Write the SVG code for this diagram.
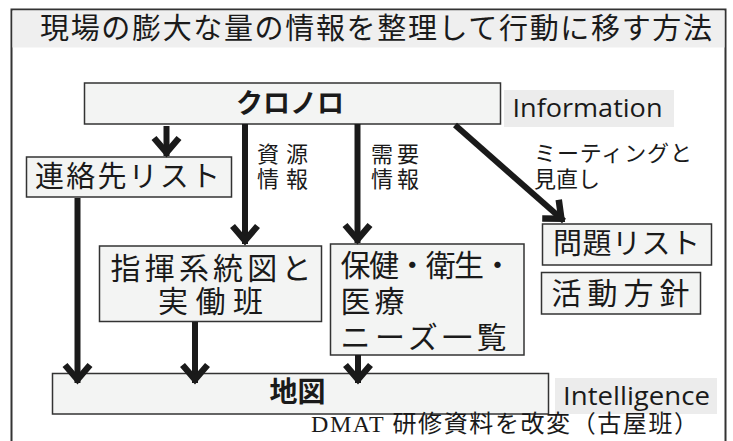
<svg xmlns="http://www.w3.org/2000/svg" width="733" height="441" viewBox="0 0 733 441">
<style>
.box{fill:#f3f4f3;stroke:#333;stroke-width:1.5}
.lbl{fill:#ececec}
.jp{font-family:"Noto Sans CJK JP","Noto Sans CJK SC",sans-serif;fill:#1a1a1a}
.en{font-family:"Open Sans","Noto Sans",sans-serif;fill:#1a1a1a;font-size:25px}
.ln{stroke:#1a1a1a;stroke-width:6;fill:none}
</style>
<defs>
<marker id="ah" markerUnits="userSpaceOnUse" markerWidth="50" markerHeight="50" viewBox="-25 -25 50 50" refX="0" refY="0" orient="auto" overflow="visible">
<path d="M -18 -12.5 L -3.5 0 L -18 12.5" fill="none" stroke="#1a1a1a" stroke-width="6.5"/>
</marker>
</defs>
<rect width="733" height="441" fill="#ffffff"/>
<g id="frame">
<rect x="11.5" y="9.5" width="714" height="445" fill="#ffffff" stroke="#333" stroke-width="2"/>
<rect x="12.5" y="10.5" width="712" height="37" fill="#efefef"/>
<text class="jp" x="40" y="39" font-size="29" textLength="672" lengthAdjust="spacing">現場の膨大な量の情報を整理して行動に移す方法</text>
</g>
<g id="chronolo">
<rect class="box" x="84.5" y="83" width="416" height="41"/>
<text class="jp" x="290" y="113" font-size="27" font-weight="bold" text-anchor="middle">クロノロ</text>
</g>
<g id="information">
<rect class="lbl" x="504" y="90" width="170" height="37"/>
<text class="en" x="512.5" y="117" textLength="150" lengthAdjust="spacingAndGlyphs">Information</text>
</g>
<g id="contacts">
<rect class="box" x="26.5" y="157" width="205" height="40"/>
<text class="jp" x="35" y="187" font-size="29" textLength="185" lengthAdjust="spacing">連絡先リスト</text>
</g>
<g id="command">
<rect class="box" x="99.5" y="246" width="222" height="75.5"/>
<text class="jp" x="110.5" y="279" font-size="30" textLength="201" lengthAdjust="spacing">指揮系統図と</text>
<text class="jp" x="158" y="312" font-size="30" textLength="105" lengthAdjust="spacing">実働班</text>
</g>
<g id="health">
<rect class="box" x="330.5" y="244" width="193.5" height="111" stroke="#555"/>
<text class="jp" x="340.5" y="276" font-size="30" textLength="172" lengthAdjust="spacing">保健・衛生・</text>
<text class="jp" x="340.5" y="312" font-size="30" textLength="64" lengthAdjust="spacing">医療</text>
<text class="jp" x="340.5" y="348" font-size="30" textLength="166" lengthAdjust="spacing">ニーズ一覧</text>
</g>
<g id="problems">
<rect class="box" x="542.5" y="224" width="169" height="41"/>
<text class="jp" x="553" y="254" font-size="29" textLength="147" lengthAdjust="spacing">問題リスト</text>
</g>
<g id="policy">
<rect class="box" x="541.5" y="272.5" width="159" height="41.5"/>
<text class="jp" x="551.5" y="304" font-size="30" textLength="138" lengthAdjust="spacing">活動方針</text>
</g>
<g id="map">
<rect class="box" x="52.5" y="373.5" width="496" height="40.5"/>
<text class="jp" x="297.5" y="402" font-size="28" font-weight="bold" text-anchor="middle">地図</text>
</g>
<g id="intelligence">
<rect class="lbl" x="555" y="378" width="162" height="36"/>
<text class="en" x="563" y="405" textLength="147" lengthAdjust="spacingAndGlyphs">Intelligence</text>
</g>
<g id="connectors">
<line class="ln" x1="166.5" y1="126" x2="166.5" y2="156" marker-end="url(#ah)"/>
<line class="ln" x1="245" y1="124" x2="245" y2="244" marker-end="url(#ah)"/>
<line class="ln" x1="357.5" y1="124" x2="357.5" y2="243" marker-end="url(#ah)"/>
<line class="ln" x1="455" y1="125" x2="564" y2="221" marker-end="url(#ah)"/>
<line class="ln" x1="77.5" y1="198" x2="77.5" y2="383" marker-end="url(#ah)"/>
<line class="ln" x1="195" y1="322" x2="195" y2="383" marker-end="url(#ah)"/>
<line class="ln" x1="358" y1="355" x2="358" y2="383" marker-end="url(#ah)"/>
<text class="jp" x="257" y="162" font-size="22" textLength="51" lengthAdjust="spacing">資源</text>
<text class="jp" x="257" y="187" font-size="22" textLength="51" lengthAdjust="spacing">情報</text>
<text class="jp" x="371" y="162" font-size="22" textLength="48" lengthAdjust="spacing">需要</text>
<text class="jp" x="371" y="187" font-size="22" textLength="48" lengthAdjust="spacing">情報</text>
<text class="jp" x="534" y="161" font-size="22" textLength="158" lengthAdjust="spacing">ミーティングと</text>
<text class="jp" x="534" y="187" font-size="22" textLength="66" lengthAdjust="spacing">見直し</text>
</g>
<text x="311" y="432" font-family="'Liberation Serif','Noto Sans CJK JP',serif" font-size="24" fill="#1a1a1a" textLength="387" lengthAdjust="spacing">DMAT 研修資料を改変（古屋班）</text>
</svg>
